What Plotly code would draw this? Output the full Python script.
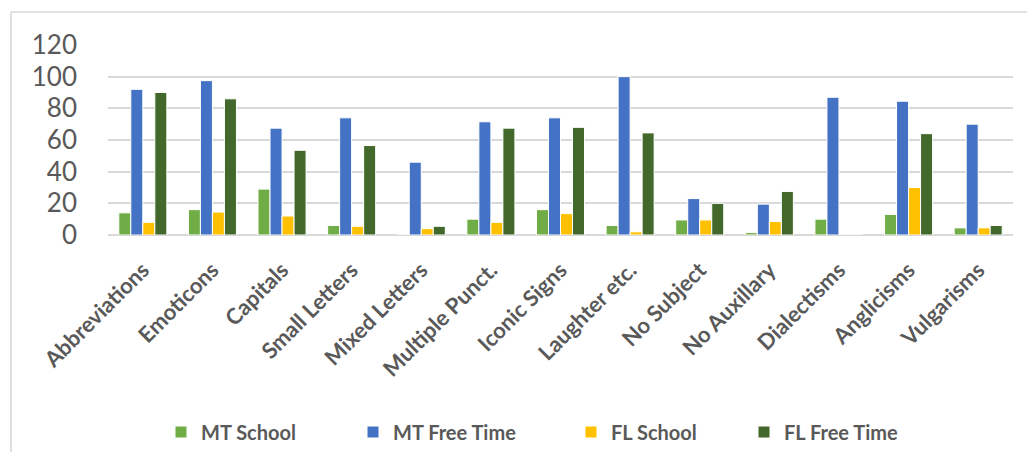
import plotly.graph_objects as go

# Feature categories shown on the x axis
categories = [
    "Abbreviations", "Emoticons", "Capitals", "Small Letters", "Mixed Letters",
    "Multiple Punct.", "Iconic Signs", "Laughter etc.", "No Subject",
    "No Auxillary", "Dialectisms", "Anglicisms", "Vulgarisms",
]

# Values per series (0 where a feature was not recorded)
mt_school = [14, 16, 29, 6, 0, 10, 16, 6, 9.5, 1.5, 10, 13, 4.5]
mt_free_time = [92, 97.5, 67.5, 74, 46, 71.5, 74, 100, 23, 19.5, 87, 84.5, 70]
fl_school = [8, 14.5, 12, 5.5, 4, 8, 13.5, 2, 9.5, 8.5, 0, 30, 4.5]
fl_free_time = [90, 86, 53.5, 56.5, 5.5, 67.5, 68, 64.5, 20, 27.5, 0, 64, 6]

y_ticks = [0, 20, 40, 60, 80, 100, 120]

series = [
    ("MT School", mt_school, "#70AD47"),
    ("MT Free Time", mt_free_time, "#4472C4"),
    ("FL School", fl_school, "#FFC000"),
    ("FL Free Time", fl_free_time, "#43682B"),
]

TEXT = "#595959"
GRID = "#D9D9D9"
FONT = "Lato"

W, H = 1027, 452
ml, mr, mt, mb = 108, 14, 45, 217
pw, ph = W - ml - mr, H - mt - mb


def px_x(x):
    return (x - ml) / pw


def px_y(y):
    return (H - mb - y) / ph


# one legend box per series so each entry sits at its own spot along the bottom
legend_left = [161, 353, 571, 744]
legend_ids = ["legend", "legend2", "legend3", "legend4"]

fig = go.Figure()
for (name, vals, color), lid in zip(series, legend_ids):
    fig.add_trace(go.Bar(
        x=categories, y=vals, name=name, legend=lid,
        marker=dict(color=color, line=dict(color="white", width=1)),
    ))

legend_style = dict(
    orientation="h", xanchor="left",
    y=px_y(432), yanchor="middle",
    font=dict(family=FONT, size=20, color=TEXT, weight="bold"),
    itemclick=False, itemdoubleclick=False,
    bgcolor="rgba(0,0,0,0)",
)
legends = {
    lid: dict(legend_style, x=px_x(x)) for lid, x in zip(legend_ids, legend_left)
}

fig.update_layout(
    width=W, height=H,
    margin=dict(l=ml, r=mr, t=mt, b=mb, autoexpand=False),
    paper_bgcolor="white", plot_bgcolor="white",
    barmode="group", bargap=0.31, bargroupgap=0.0,
    font=dict(family=FONT, color=TEXT),
    showlegend=True,
    xaxis=dict(
        tickangle=-45,
        tickfont=dict(family=FONT, size=22, color=TEXT, weight="bold"),
        showgrid=False, showline=False, ticks="",
        ticklabelstandoff=17,
    ),
    yaxis=dict(
        range=[0, 120], tickvals=y_ticks,
        tickfont=dict(family=FONT, size=26, color=TEXT),
        showgrid=True, gridcolor=GRID, gridwidth=1.6,
        zeroline=True, zerolinecolor=GRID, zerolinewidth=1.6,
        showline=False, ticks="",
        ticklabelstandoff=30,
    ),
    shapes=[
        # chart-area frame: top and left edges
        dict(type="line", xref="paper", yref="paper",
             x0=px_x(11), x1=px_x(W), y0=px_y(12), y1=px_y(12),
             line=dict(color=GRID, width=1.6)),
        dict(type="line", xref="paper", yref="paper",
             x0=px_x(11), x1=px_x(11), y0=px_y(12), y1=px_y(H),
             line=dict(color=GRID, width=1.6)),
    ],
    **legends,
)

fig.write_html("out.html")
